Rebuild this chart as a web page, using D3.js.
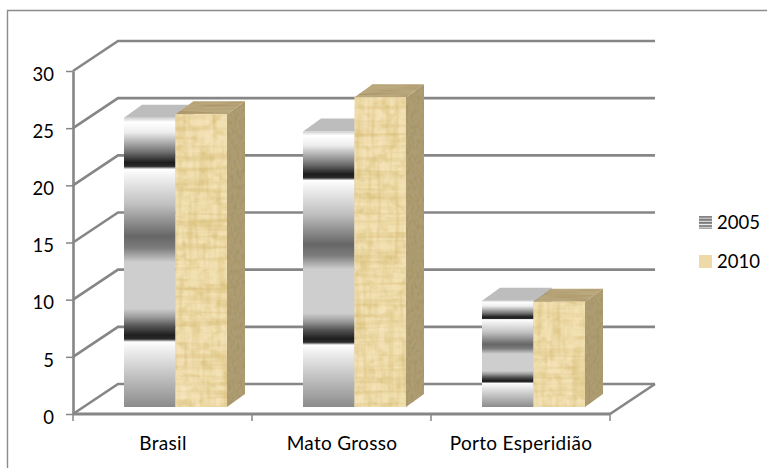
<!DOCTYPE html>
<html>
<head>
<meta charset="utf-8">
<script src="https://cdn.jsdelivr.net/npm/d3@7"></script>
<style>
html,body{margin:0;padding:0;background:#fff;}
svg{display:block;}
text{font-family:Lato,"Open Sans",sans-serif;fill:#000;}
</style>
</head>
<body>
<div id="chart"></div>
<script>
// Chart values
const categories = ["Brasil", "Mato Grosso", "Porto Esperidião"];
const years = ["2005", "2010"];
const values2005 = [25.3, 24.1, 9.3];
const values2010 = [25.6, 27.1, 9.2];
const yTicks = [0, 5, 10, 15, 20, 25, 30];

// Metallic banding of the 2005 columns: [offset, grey]
const metalStops = [
  [0, "#cfcfcf"], [0.015, "#ffffff"], [0.05, "#eeeeee"], [0.08, "#b8b8b8"], [0.12, "#6e6e6e"],
  [0.155, "#1c1c1c"], [0.168, "#2a2a2a"], [0.178, "#ffffff"], [0.19, "#f8f8f8"], [0.3, "#c0c0c0"],
  [0.41, "#666666"], [0.45, "#7c7c7c"], [0.5, "#cecece"], [0.66, "#cecece"], [0.69, "#9a9a9a"],
  [0.72, "#555555"], [0.752, "#1f1f1f"], [0.765, "#2a2a2a"], [0.775, "#ffffff"], [0.79, "#f5f5f5"],
  [0.88, "#c8c8c8"], [1, "#8c8c8c"]
];
const stripeStops = [[0, "#7a7a7a"], [0.45, "#949494"], [0.6, "#efefef"], [1, "#7a7a7a"]];

const width = 767, height = 468;
const axisColor = "#868686";

// Oblique projection: the floor recedes by (depthX, -depthY)
const depthX = 45, depthY = 30;
const barShiftY = 7;   // columns stand a little way back from the front edge
const barDepthX = 18, barDepthY = 13;

const x = d3.scaleBand().domain(categories).range([73, 610]);
const y = d3.scaleLinear().domain([0, 30]).range([414, 71]);
const series = d3.scaleBand().domain(years).range([-51.5, 51.5]);

const svg = d3.select("#chart").append("svg").attr("width", width).attr("height", height);
const defs = svg.append("defs");

const metal = defs.append("linearGradient").attr("id", "metal")
  .attr("x1", 0).attr("y1", 0).attr("x2", 0).attr("y2", 1);
metal.selectAll("stop").data(metalStops).join("stop")
  .attr("offset", d => d[0]).attr("stop-color", d => d[1]);

const stripes = defs.append("linearGradient").attr("id", "stripes")
  .attr("x1", 0).attr("y1", 0).attr("x2", 0).attr("y2", 0.25).attr("spreadMethod", "repeat");
stripes.selectAll("stop").data(stripeStops).join("stop")
  .attr("offset", d => d[0]).attr("stop-color", d => d[1]);

// Papyrus weave: vertical fibres, horizontal fibres and a fine grain laid over the 2010 columns
function papyrus(id, layers) {
  const f = defs.append("filter").attr("id", id)
    .attr("x", 0).attr("y", 0).attr("width", 1).attr("height", 1)
    .attr("color-interpolation-filters", "sRGB");
  const names = [];
  layers.forEach((l, i) => {
    f.append("feTurbulence").attr("type", "fractalNoise")
      .attr("baseFrequency", l.freq).attr("numOctaves", l.octaves || 2).attr("seed", l.seed)
      .attr("result", "n" + i);
    f.append("feColorMatrix").attr("in", "n" + i).attr("type", "matrix")
      .attr("values", `0 0 0 0 ${l.rgb[0]}  0 0 0 0 ${l.rgb[1]}  0 0 0 0 ${l.rgb[2]}  ${l.strength} 0 0 0 ${-l.strength * l.cut}`)
      .attr("result", "t" + i);
    f.append("feComposite").attr("in", "t" + i).attr("in2", "SourceGraphic")
      .attr("operator", "in").attr("result", "c" + i);
    names.push("c" + i);
  });
  const merge = f.append("feMerge");
  merge.append("feMergeNode").attr("in", "SourceGraphic");
  names.forEach(n => merge.append("feMergeNode").attr("in", n));
}
const fibre = [0.80, 0.68, 0.36], pale = [0.98, 0.90, 0.76];
papyrus("papyrusFront", [
  { freq: "0.14 0.012", seed: 4, strength: 1.8, cut: 0.42, rgb: pale },
  { freq: "0.18 0.02", seed: 11, strength: 0.9, cut: 0.46, rgb: fibre },
  { freq: "0.012 0.22", seed: 7, strength: 0.9, cut: 0.46, rgb: fibre },
  { freq: "0.09 0.11", seed: 21, strength: 1.0, cut: 0.48, rgb: fibre, octaves: 3 }
]);
papyrus("papyrusSide", [
  { freq: "0.35 0.2", seed: 9, strength: 0.8, cut: 0.42, rgb: [0.58, 0.50, 0.32], octaves: 2 }
]);
papyrus("papyrusTop", [
  { freq: "0.02 0.5", seed: 3, strength: 1.2, cut: 0.42, rgb: [0.58, 0.48, 0.28] }
]);

// Back wall and floor
const grid = svg.append("g").attr("fill", "none").attr("stroke", axisColor).attr("stroke-width", 2.6);
grid.selectAll("path").data(yTicks).join("path")
  .attr("d", t => {
    const p = d3.path();
    p.moveTo(73, y(t));
    p.lineTo(73 + depthX, y(t) - depthY);
    p.lineTo(610 + depthX, y(t) - depthY);
    return p.toString();
  });
const floorEdge = d3.path();
floorEdge.moveTo(610, y(0));
floorEdge.lineTo(610 + depthX, y(0) - depthY);
grid.append("path").attr("d", floorEdge.toString());

// Columns
const barBase = y(0) - barShiftY;
function drawBar(g, cx, value, year) {
  const x0 = cx + series(year);
  const w = series.bandwidth();
  const topY = barBase - (y(0) - y(value));
  const poly = pts => pts.map(p => p.join(",")).join(" ");
  const is2005 = year === years[0];
  g.append("polygon")
    .attr("points", poly([[x0 + w, topY], [x0 + w + barDepthX, topY - barDepthY],
      [x0 + w + barDepthX, barBase - barDepthY], [x0 + w, barBase]]))
    .attr("fill", is2005 ? "#9c9c9c" : "#ae9d72")
    .attr("filter", is2005 ? null : "url(#papyrusSide)");
  g.append("polygon")
    .attr("points", poly([[x0, topY], [x0 + barDepthX, topY - barDepthY],
      [x0 + w + barDepthX, topY - barDepthY], [x0 + w, topY]]))
    .attr("fill", is2005 ? "#bdbdbd" : "#bba97e")
    .attr("filter", is2005 ? null : "url(#papyrusTop)");
  g.append("rect")
    .attr("x", x0).attr("y", topY).attr("width", w).attr("height", barBase - topY)
    .attr("fill", is2005 ? "url(#metal)" : "#f1e0b0")
    .attr("filter", is2005 ? null : "url(#papyrusFront)");
}
const bars = svg.append("g");
categories.forEach((c, i) => {
  const cx = x(c) + x.bandwidth() / 2 + 13;
  drawBar(bars, cx, values2005[i], years[0]);
  drawBar(bars, cx, values2010[i], years[1]);
});

// Front axes
const yAxis = d3.axisLeft(y).tickValues(yTicks).tickSize(7).tickPadding(12).tickSizeOuter(0);
const yG = svg.append("g").attr("transform", "translate(73,0)").call(yAxis);
yG.select(".domain").attr("stroke", axisColor).attr("stroke-width", 2.6);
yG.selectAll(".tick line").attr("stroke", axisColor).attr("stroke-width", 1.5);
yG.selectAll(".tick text").attr("font-size", 18.5).attr("font-family", null).attr("fill", "#000")
  .attr("dy", "0.5em");

svg.append("line").attr("x1", 73).attr("x2", 610).attr("y1", y(0)).attr("y2", y(0))
  .attr("stroke", axisColor).attr("stroke-width", 3);
const edgeTicks = categories.map(c => x(c)).concat(x.range()[1]);
svg.append("g").selectAll("line").data(edgeTicks).join("line")
  .attr("x1", d => d).attr("x2", d => d).attr("y1", y(0)).attr("y2", y(0) + 7)
  .attr("stroke", axisColor).attr("stroke-width", 1.5);

svg.append("g").selectAll("text").data(categories).join("text")
  .attr("x", d => x(d) + x.bandwidth() / 2 + 0.5)
  .attr("y", 450)
  .attr("text-anchor", "middle")
  .attr("font-size", 19)
  .attr("letter-spacing", 0.3)
  .text(d => d);

// Legend
const legendY = d3.scalePoint().domain(years).range([222.5, 261.5]);
const legend = svg.append("g");
legend.selectAll("rect").data(years).join("rect")
  .attr("x", 699).attr("y", d => legendY(d) - 6.5).attr("width", 13).attr("height", 13)
  .attr("fill", (d, i) => i === 0 ? "url(#stripes)" : "#eedaa6");
legend.selectAll("text").data(years).join("text")
  .attr("x", 717).attr("y", d => legendY(d) + 6.5)
  .attr("font-size", 18.5)
  .text(d => d);

// Chart area border
svg.append("path").attr("d", "M7.5,468V10.5H767").attr("fill", "none")
  .attr("stroke", "#8c8c8c").attr("stroke-width", 1.4);
</script>
</body>
</html>
